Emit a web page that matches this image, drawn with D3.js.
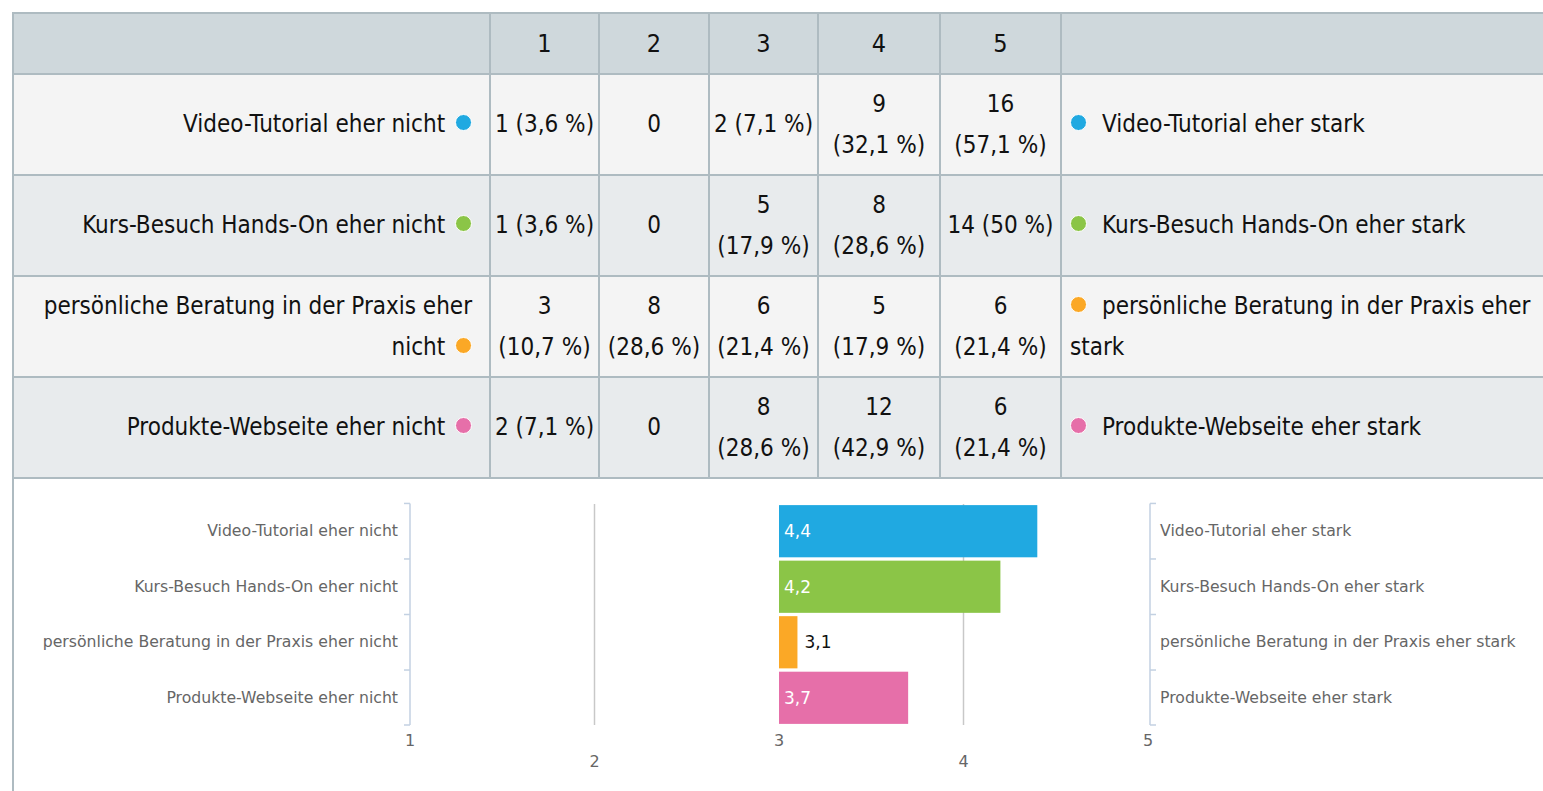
<!DOCTYPE html>
<html>
<head>
<meta charset="utf-8">
<script src="https://cdn.jsdelivr.net/npm/d3@7"></script>
<style>
    body { margin: 0; overflow: hidden; background: #fff; }
    #wrap { position: absolute; left: 12px; top: 12px; width: 1560px; }
    table { border-collapse: collapse; table-layout: fixed; width: 1560px;
            font-family: "DejaVu Sans Condensed", "DejaVu Sans", sans-serif; font-stretch: condensed; font-size: 24px; color: #111; }
    td, th { border: 2px solid #aebbc1; padding: 0 3px; font-weight: normal; line-height: 41px; }
    th { background: #cfd8dc; height: 59px; text-align: center; font-size: 25px; }
    td { height: 99px; text-align: center; white-space: nowrap; }
    tr.odd td { background: #f4f4f4; }
    tr.even td { background: #e8ebed; }
    td.lab { text-align: right; padding-right: 17px; white-space: normal; }
    td.rlab { text-align: left; padding-left: 8px; white-space: normal; }
    .dot { display: inline-block; width: 15px; height: 15px; border-radius: 50%; border: 1px solid #fff; vertical-align: 1px; }
    td.lab .dot { margin-left: 3px; }
    td.rlab .dot { margin-right: 15px; }
    #chart { display: block; border-left: 2px solid #aebbc1; }
</style>
</head>
<body>
<div id="wrap">
    <table id="tbl"></table>
    <svg id="chart" width="1560" height="320"></svg>
</div>
<script>
//Data
var scaleLabels = ["1", "2", "3", "4", "5"];
var leftLabels = ["Video-Tutorial eher nicht", "Kurs-Besuch Hands-On eher nicht", "persönliche Beratung in der Praxis eher nicht", "Produkte-Webseite eher nicht"];
var rightLabels = ["Video-Tutorial eher stark", "Kurs-Besuch Hands-On eher stark", "persönliche Beratung in der Praxis eher stark", "Produkte-Webseite eher stark"];
var colors = ["#20a9e1", "#8bc547", "#fba826", "#e66fa9"];
var counts = [
    [1, 0, 2, 9, 16],
    [1, 0, 5, 8, 14],
    [3, 8, 6, 5, 6],
    [2, 0, 8, 12, 6]
];
var percents = [
    ["3,6", null, "7,1", "32,1", "57,1"],
    ["3,6", null, "17,9", "28,6", "50"],
    ["10,7", "28,6", "21,4", "17,9", "21,4"],
    ["7,1", null, "28,6", "42,9", "21,4"]
];
var means = [4.4, 4.2, 3.1, 3.7];

//Column widths of the table
var colWidths = [477, 109, 110, 109, 122, 121, 512];

var tbl = d3.select("#tbl");
tbl.append("colgroup").selectAll("col").data(colWidths).enter().append("col")
    .style("width", function(d) { return d + "px"; });

var head = tbl.append("tr");
head.append("th");
head.selectAll("th.n").data(scaleLabels).enter().append("th").attr("class", "n").text(function(d) { return d; });
head.append("th");

leftLabels.forEach(function(lab, i) {
    var tr = tbl.append("tr").attr("class", i % 2 == 0 ? "odd" : "even");
    var l = tr.append("td").attr("class", "lab");
    l.append("span").text(lab + " ");
    l.append("span").attr("class", "dot").style("background", colors[i]);
    counts[i].forEach(function(c, j) {
        var td = tr.append("td");
        if (percents[i][j] === null) { td.text(c); return; }
        var pct = "(" + percents[i][j] + " %)";
        //long entries go on two lines, like in the original
        if ((c + " " + pct).length > 9) {
            td.append("span").text(c);
            td.append("br");
            td.append("span").text(pct);
        } else {
            td.text(c + " " + pct);
        }
    });
    var r = tr.append("td").attr("class", "rlab");
    r.append("span").attr("class", "dot").style("background", colors[i]);
    r.append("span").text(rightLabels[i]);
});

//Chart below the table (svg starts after a 2px border, hence the offsets)
var svg = d3.select("#chart");
var x = d3.scaleLinear().domain([1, 5]).range([396, 1134]);
var y = d3.scaleBand().domain(leftLabels).range([25, 246]).paddingInner(0.06).paddingOuter(0.02);
var axisColor = "#c3d1e2";
var fontChart = "'DejaVu Sans', sans-serif";

//Grid lines
svg.selectAll("line.grid").data([2, 4]).enter().append("line")
    .attr("x1", function(d) { return x(d); }).attr("x2", function(d) { return x(d); })
    .attr("y1", 25).attr("y2", 246).attr("stroke", "#c8c8c8").attr("stroke-width", 1.5);

//Bars (from 3)
svg.selectAll("rect.bar").data(means).enter().append("rect")
    .attr("x", x(3))
    .attr("y", function(d, i) { return y(leftLabels[i]); })
    .attr("width", function(d) { return x(d) - x(3); })
    .attr("height", y.bandwidth())
    .attr("fill", function(d, i) { return colors[i]; });

//Value labels
svg.selectAll("text.val").data(means).enter().append("text")
    .attr("x", function(d) { return x(d) - x(3) > 40 ? x(3) + 5 : x(d) + 7; })
    .attr("y", function(d, i) { return y(leftLabels[i]) + y.bandwidth() / 2; })
    .attr("dy", "0.35em")
    .attr("fill", function(d) { return x(d) - x(3) > 40 ? "#fff" : "#111"; })
    .style("font-family", "'DejaVu Sans', sans-serif").style("font-size", "17px")
    .text(function(d) { return d3.format(".1f")(d).replace(".", ","); });

//Left and right category axes
var leftAxis = d3.axisLeft(y).tickSize(0).tickPadding(12);
var gl = svg.append("g").attr("transform", "translate(" + x(1) + ",0)").call(leftAxis);
var rightAxis = d3.axisRight(y.copy().domain(rightLabels)).tickSize(0).tickPadding(10);
var gr = svg.append("g").attr("transform", "translate(" + (x(5) + 2) + ",0)").call(rightAxis);
[gl, gr].forEach(function(g) {
    g.select(".domain").remove();
    g.selectAll("text").attr("fill", "#666").style("font-family", fontChart).style("font-size", "15.7px");
});

//Axis lines with ticks at band edges
var edges = leftLabels.map(function(d) { return y(d) - y.step() * y.paddingInner() / 2; });
edges.push(y.range()[1]);
[[x(1), -6], [x(5) + 2, 6]].forEach(function(a) {
    svg.append("line").attr("x1", a[0]).attr("x2", a[0]).attr("y1", edges[0]).attr("y2", edges[edges.length - 1])
        .attr("stroke", axisColor).attr("stroke-width", 1.5);
    svg.selectAll(null).data(edges).enter().append("line")
        .attr("x1", a[0]).attr("x2", a[0] + a[1])
        .attr("y1", function(d) { return d; }).attr("y2", function(d) { return d; })
        .attr("stroke", axisColor).attr("stroke-width", 1.5);
});

//X tick labels, staggered
svg.selectAll("text.xt").data(scaleLabels).enter().append("text")
    .attr("x", function(d) { return x(+d); })
    .attr("y", function(d, i) { return i % 2 == 0 ? 267 : 288; })
    .attr("text-anchor", "middle").attr("fill", "#666")
    .style("font-family", fontChart).style("font-size", "16px")
    .text(function(d) { return d; });
</script>
</body>
</html>
